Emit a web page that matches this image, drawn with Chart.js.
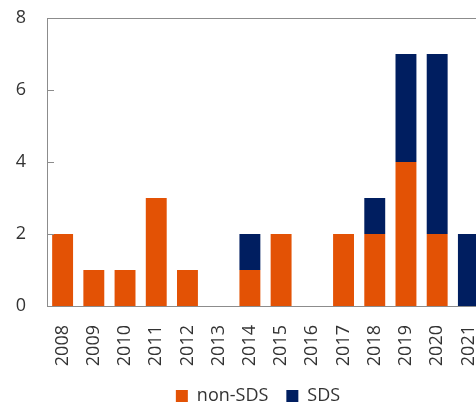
<!DOCTYPE html>
<html>
<head>
<meta charset="utf-8">
<script src="https://cdn.jsdelivr.net/npm/chart.js@4"></script>
<style>
  html, body { margin: 0; padding: 0; background: #fff; overflow: hidden; }
  #wrap { width: 516px; height: 405px; position: relative; }
</style>
</head>
<body>
<div id="wrap"><canvas id="chart"></canvas></div>
<script>
// ---- Data ----
const years = ['2008', '2009', '2010', '2011', '2012', '2013', '2014', '2015', '2016', '2017', '2018', '2019', '2020', '2021'];
const nonSds = [2, 1, 1, 3, 1, 0, 1, 2, 0, 2, 2, 4, 2, 0];
const sds = [0, 0, 0, 0, 0, 0, 1, 0, 0, 0, 1, 3, 5, 2];
const yTicks = [0, 2, 4, 6, 8];

const axisGray = '#8c8c8c';
const font = { family: '"Open Sans", "Noto Sans", sans-serif', size: 18 };

// inner tick marks on the y axis + top border line
const axisExtras = {
  id: 'axisExtras',
  afterDraw(chart) {
    const { ctx, chartArea } = chart;
    const y = chart.scales.y;
    ctx.save();
    ctx.strokeStyle = axisGray;
    ctx.lineWidth = 1;
    ctx.beginPath();
    yTicks.forEach(v => {
      const py = Math.round(y.getPixelForValue(v)) + 0.5;
      ctx.moveTo(chartArea.left, py);
      ctx.lineTo(chartArea.left + 7, py);
    });
    const top = Math.round(chartArea.top) + 0.5;
    ctx.moveTo(chartArea.left, top);
    ctx.lineTo(chartArea.right, top);
    ctx.stroke();
    ctx.restore();
  }
};

const chart = new Chart(document.getElementById('chart'), {
  type: 'bar',
  data: {
    labels: years,
    datasets: [
      { label: 'non-SDS', data: nonSds, backgroundColor: '#e35205', barPercentage: 0.67, categoryPercentage: 1 },
      { label: 'SDS', data: sds, backgroundColor: '#001e60', barPercentage: 0.67, categoryPercentage: 1 }
    ]
  },
  options: {
    responsive: true,
    maintainAspectRatio: false,
    animation: false,
    layout: { padding: { top: 18, bottom: 0 } },
    plugins: {
      tooltip: { enabled: false },
      legend: {
        position: 'bottom',
        labels: {
          color: '#333',
          font,
          boxWidth: 12,
          boxHeight: 12,
          padding: 18
        }
      }
    },
    scales: {
      x: {
        stacked: true,
        grid: { display: false, drawTicks: false },
        border: { color: axisGray },
        ticks: { color: '#333', font, maxRotation: 90, minRotation: 90, padding: 19 },
        afterFit: s => { s.height = 63; }
      },
      y: {
        stacked: true,
        min: 0,
        max: 8,
        grid: { display: false, drawTicks: false },
        border: { color: axisGray },
        ticks: { color: '#333', font, stepSize: 2, padding: 21 },
        afterFit: s => { s.width = 47; s.paddingTop = 0; s.paddingBottom = 0; }
      },
      pad: {
        position: 'right',
        display: true,
        grid: { display: false, drawTicks: false },
        border: { display: false },
        ticks: { display: false },
        afterFit: s => { s.width = 32; }
      }
    }
  },
  plugins: [axisExtras]
});

// fix the legend box height so the plot keeps the reference proportions
const legendFit = chart.legend.fit;
chart.legend.fit = function () { legendFit.call(this); this.height = 36; };
chart.update();
</script>
</body>
</html>
